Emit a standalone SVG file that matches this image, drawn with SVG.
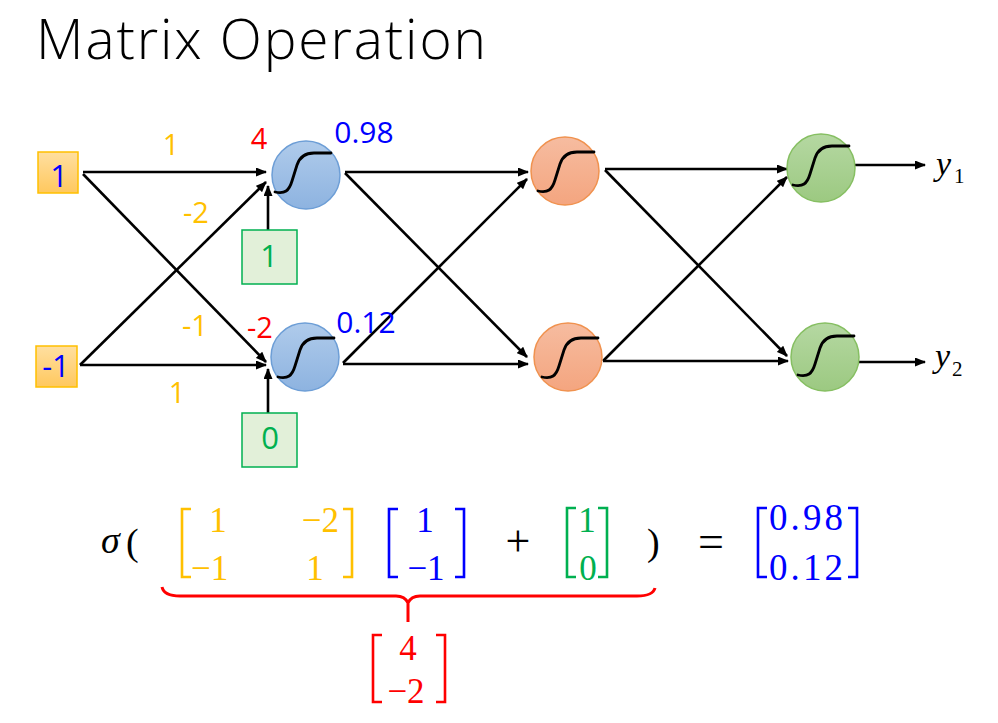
<svg xmlns="http://www.w3.org/2000/svg" width="998" height="723" viewBox="0 0 998 723">
<style>
.lbl{font-family:"Open Sans","Liberation Sans",sans-serif;text-anchor:middle}
.math{font-family:"Liberation Serif","DejaVu Serif",serif}
.edge{stroke:#000;stroke-width:2.6;fill:none;marker-end:url(#arr)}
.sig{stroke:#000;stroke-width:2.8;fill:none;stroke-linecap:round}
.br{fill:none;stroke-width:2.6}
.or{fill:#FFC000}.bl{fill:#0000FF}.rd{fill:#FF0000}.gr{fill:#00B050}
</style>
<defs>
<marker id="arr" markerUnits="userSpaceOnUse" markerWidth="11" markerHeight="9" refX="10" refY="4.5" orient="auto">
<path d="M0,0 L11,4.5 L0,9 z" fill="#000"/>
</marker>
<linearGradient id="gIn" x1="0" y1="0" x2="0" y2="1"><stop offset="0" stop-color="#FFDFA0"/><stop offset="1" stop-color="#FFC85E"/></linearGradient>
<linearGradient id="gBl" x1="0" y1="0" x2="0" y2="1"><stop offset="0" stop-color="#AFCBEB"/><stop offset="1" stop-color="#8DB3E0"/></linearGradient>
<linearGradient id="gOr" x1="0" y1="0" x2="0" y2="1"><stop offset="0" stop-color="#F6BCA0"/><stop offset="1" stop-color="#F4A57F"/></linearGradient>
<linearGradient id="gGr" x1="0" y1="0" x2="0" y2="1"><stop offset="0" stop-color="#B5D8A2"/><stop offset="1" stop-color="#9CC981"/></linearGradient>
<path id="sg" d="M-28,20 C-18,22 -14,19 -11,9 L-6,-7 C-3,-16 3,-19 11,-19 L28,-19"/>
</defs>

<text x="36" y="59" font-family="'Open Sans','Liberation Sans',sans-serif" font-weight="300" font-size="55" letter-spacing="1.9" fill="#000">Matrix Operation</text>

<g id="connectors">
<line class="edge" x1="83" y1="172" x2="266" y2="172"/>
<line class="edge" x1="83" y1="174" x2="266" y2="362"/>
<line class="edge" x1="80" y1="365" x2="266" y2="182"/>
<line class="edge" x1="80" y1="365" x2="266" y2="365"/>
<line class="edge" x1="268" y1="230" x2="268" y2="186"/>
<line class="edge" x1="268" y1="413" x2="268" y2="369"/>
<line class="edge" x1="345" y1="172" x2="528" y2="172"/>
<line class="edge" x1="345" y1="173" x2="527" y2="357"/>
<line class="edge" x1="343" y1="363" x2="527" y2="179"/>
<line class="edge" x1="343" y1="364" x2="528" y2="364"/>
<line class="edge" x1="605" y1="169" x2="787" y2="169"/>
<line class="edge" x1="605" y1="170" x2="787" y2="356"/>
<line class="edge" x1="603" y1="361" x2="787" y2="177"/>
<line class="edge" x1="603" y1="361" x2="788" y2="361"/>
<line class="edge" x1="855" y1="165" x2="925" y2="165"/>
<line class="edge" x1="859" y1="362" x2="925" y2="362"/>
</g>

<g id="in1"><rect x="38" y="152" width="40" height="41" fill="url(#gIn)" stroke="#FFC000" stroke-width="1.5"/><text class="lbl bl" x="59" y="187" font-size="31">1</text></g>
<g id="in2"><rect x="36" y="346" width="41" height="41" fill="url(#gIn)" stroke="#FFC000" stroke-width="1.5"/><text class="lbl bl" x="56" y="377" font-size="31">-1</text></g>

<g id="b1"><rect x="242" y="230" width="55" height="54" fill="#E2F0D9" stroke="#00B050" stroke-width="1.5"/><text class="lbl gr" x="269" y="267" font-size="31">1</text></g>
<g id="b2"><rect x="242" y="413" width="55" height="54" fill="#E2F0D9" stroke="#00B050" stroke-width="1.5"/><text class="lbl gr" x="270" y="449" font-size="31">0</text></g>

<g id="h11"><circle cx="306" cy="175" r="34" fill="url(#gBl)" stroke="#6D9ED6" stroke-width="1.5"/><use href="#sg" class="sig" transform="translate(303,172)"/></g>
<g id="h12"><circle cx="305" cy="357" r="34" fill="url(#gBl)" stroke="#6D9ED6" stroke-width="1.5"/><use href="#sg" class="sig" transform="translate(306,357)"/></g>
<g id="h21"><circle cx="565" cy="171" r="34" fill="url(#gOr)" stroke="#F0924F" stroke-width="1.5"/><use href="#sg" class="sig" transform="translate(566,171)"/></g>
<g id="h22"><circle cx="568" cy="357" r="34" fill="url(#gOr)" stroke="#F0924F" stroke-width="1.5"/><use href="#sg" class="sig" transform="translate(570,357)"/></g>
<g id="o1"><circle cx="821" cy="168" r="34" fill="url(#gGr)" stroke="#86BF62" stroke-width="1.5"/><use href="#sg" class="sig" transform="translate(821,165)"/></g>
<g id="o2"><circle cx="825" cy="357" r="34" fill="url(#gGr)" stroke="#86BF62" stroke-width="1.5"/><use href="#sg" class="sig" transform="translate(826,355)"/></g>

<g id="labels">
<text class="lbl or" x="171" y="155" font-size="29">1</text>
<text class="lbl or" x="196" y="223" font-size="29">-2</text>
<text class="lbl or" x="195" y="336" font-size="29">-1</text>
<text class="lbl or" x="177" y="403" font-size="29">1</text>
<text class="lbl rd" x="259" y="149" font-size="29">4</text>
<text class="lbl rd" x="260" y="338" font-size="29">-2</text>
<text class="lbl bl" x="364" y="143" font-size="30">0.98</text>
<text class="lbl bl" x="366" y="333" font-size="30">0.12</text>
</g>

<g id="y1"><text class="math" x="936" y="175" font-size="34" font-style="italic" fill="#000">y</text><text class="math" x="954" y="183" font-size="21" fill="#000">1</text></g>
<g id="y2"><text class="math" x="935" y="367" font-size="34" font-style="italic" fill="#000">y</text><text class="math" x="952" y="376" font-size="21" fill="#000">2</text></g>

<g id="equation">
<text class="math" x="101" y="553" font-size="38" font-style="italic" fill="#000">σ</text>
<text class="math" x="126" y="555" font-size="38" fill="#000">(</text>
<path class="br" stroke="#FFC000" d="M191,509 L182,509 L182,577 L191,577 M343,509 L352,509 L352,577 L343,577"/>
<text class="math or" x="218" y="532" font-size="35" text-anchor="middle">1</text>
<text class="math or" x="339" y="532" font-size="35" text-anchor="end">−2</text>
<text class="math or" x="191" y="580" font-size="35">−1</text>
<text class="math or" x="315" y="580" font-size="35" text-anchor="middle">1</text>
<path class="br" stroke="#0000FF" d="M398,509 L389,509 L389,577 L398,577 M455,509 L464,509 L464,577 L455,577"/>
<text class="math bl" x="425" y="532" font-size="35" text-anchor="middle">1</text>
<text class="math bl" x="426" y="580" font-size="35" text-anchor="middle">−1</text>
<text class="math" x="518" y="556" font-size="44" text-anchor="middle" fill="#000">+</text>
<path class="br" stroke="#00B050" d="M576,508 L567,508 L567,577 L576,577 M598,508 L607,508 L607,577 L598,577"/>
<text class="math gr" x="587" y="532" font-size="35" text-anchor="middle">1</text>
<text class="math gr" x="588" y="580" font-size="35" text-anchor="middle">0</text>
<text class="math" x="647" y="555" font-size="38" fill="#000">)</text>
<text class="math" x="711" y="557" font-size="46" text-anchor="middle" fill="#000">=</text>
<path class="br" stroke="#0000FF" d="M767,508 L758,508 L758,577 L767,577 M848,508 L857,508 L857,577 L848,577"/>
<text class="math bl" x="769" y="530" font-size="37" textLength="74">0.98</text>
<text class="math bl" x="769" y="580" font-size="37" textLength="74">0.12</text>
<path fill="none" stroke="#FF0000" stroke-width="3" d="M162,587 Q164,596 180,596 L396,596 Q405,596 408,603 Q411,596 420,596 L637,596 Q653,596 655,588 M408,601 L408,622"/>
<path class="br" stroke="#FF0000" d="M382,635 L373,635 L373,702 L382,702 M436,635 L445,635 L445,702 L436,702"/>
<text class="math rd" x="408" y="660" font-size="35" text-anchor="middle">4</text>
<text class="math rd" x="406" y="703" font-size="35" text-anchor="middle">−2</text>
</g>
</svg>
